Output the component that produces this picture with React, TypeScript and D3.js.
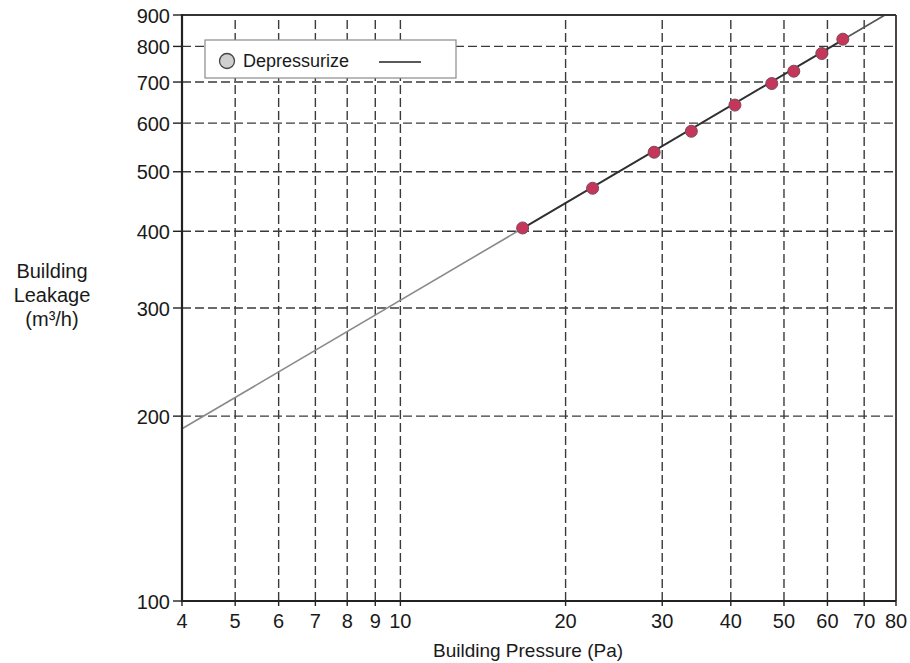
import React from 'react';
import * as d3 from 'd3';

// measured building pressure (Pa) and leakage (m³/h)
const pressures = [16.7, 22.4, 29.0, 33.9, 40.7, 47.5, 52.1, 58.6, 64.0];
const leakages = [405, 470, 538, 582, 642, 696, 729, 779, 822];

// power-law fit Q = C * P^n
const fitC = 92.0;
const fitN = 0.526;

const xTicks = [4, 5, 6, 7, 8, 9, 10, 20, 30, 40, 50, 60, 70, 80];
const yTicks = [100, 200, 300, 400, 500, 600, 700, 800, 900];

const W = 910;
const H = 663;
const margin = { top: 15, right: 14, bottom: 62, left: 182 };
const FONT = 'Liberation Sans, Arial, sans-serif';

export default function App() {
  const x = d3.scaleLog().domain([4, 80]).range([margin.left, W - margin.right]);
  const y = d3.scaleLog().domain([100, 900]).range([H - margin.bottom, margin.top]);
  const [x0, x1] = x.range();
  const [y0, y1] = y.range();

  const fit = (p: number) => fitC * Math.pow(p, fitN);
  const pEnd = Math.min(80, Math.pow(900 / fitC, 1 / fitN));
  const pFirst = pressures[0];
  const pLast = pressures[pressures.length - 1];

  const line = d3.line<number>().x(p => x(p)).y(p => y(fit(p)));

  return (
    <svg width={W} height={H} style={{ position: 'absolute', left: 0, top: 0, background: '#fff' }} fontFamily={FONT}>
      {/* grid */}
      <g stroke="#3a3a3a" strokeWidth={1.4} strokeDasharray="9,4">
        {xTicks.slice(1, -1).map(t => (
          <line key={'gx' + t} x1={x(t)} x2={x(t)} y1={y0} y2={y1} />
        ))}
        {yTicks.slice(1, -1).map(t => (
          <line key={'gy' + t} x1={x0} x2={x1} y1={y(t)} y2={y(t)} />
        ))}
      </g>

      {/* fitted line */}
      <path d={line([4, pFirst]) || ''} fill="none" stroke="#8a8a8a" strokeWidth={1.6} />
      <path d={line([pFirst, pLast]) || ''} fill="none" stroke="#2f2f2f" strokeWidth={2} />
      <path d={line([pLast, pEnd]) || ''} fill="none" stroke="#555" strokeWidth={1.6} />

      {/* points */}
      {pressures.map((p, i) => (
        <circle key={i} cx={x(p)} cy={y(leakages[i])} r={6} fill="#c4375a" stroke="#7a4a5a" strokeWidth={1} />
      ))}

      {/* frame */}
      <line x1={x0} x2={x1} y1={y1} y2={y1} stroke="#333" strokeWidth={1.8} />
      <line x1={x1} x2={x1} y1={y1} y2={y0} stroke="#333" strokeWidth={1.8} />
      <line x1={x0} x2={x0} y1={y1 - 1} y2={y0 + 1} stroke="#222" strokeWidth={2.2} />
      <line x1={x0 - 1} x2={x1} y1={y0} y2={y0} stroke="#222" strokeWidth={2.2} />

      {/* y ticks */}
      {yTicks.map(t => (
        <g key={'yt' + t}>
          <line x1={x0 - 9} x2={x0} y1={y(t)} y2={y(t)} stroke="#222" strokeWidth={1.4} />
          <text x={x0 - 12} y={y(t)} dy="0.38em" textAnchor="end" fontSize={20} fill="#1a1a1a">{t}</text>
        </g>
      ))}

      {/* x ticks */}
      {xTicks.map(t => (
        <g key={'xt' + t}>
          <line x1={x(t)} x2={x(t)} y1={y0} y2={y0 + 5} stroke="#222" strokeWidth={1.4} />
          <text x={x(t)} y={y0 + 27} textAnchor="middle" fontSize={20} fill="#1a1a1a">{t}</text>
        </g>
      ))}

      {/* axis titles */}
      <text x={528} y={657} textAnchor="middle" fontSize={19} fill="#1a1a1a">Building Pressure (Pa)</text>
      <text x={52} y={278} textAnchor="middle" fontSize={20} fill="#1a1a1a">
        <tspan x={52} dy={0}>Building</tspan>
        <tspan x={52} dy={24}>Leakage</tspan>
        <tspan x={52} dy={24}>(m³/h)</tspan>
      </text>

      {/* legend */}
      <g>
        <rect x={205} y={40} width={251} height={38} fill="#fff" stroke="#8a8a8a" strokeWidth={1.2} />
        <circle cx={227} cy={61} r={7.5} fill="#cfcfcf" stroke="#444" strokeWidth={1.3} />
        <text x={243} y={61} dy="0.36em" fontSize={18} fill="#1a1a1a">Depressurize</text>
        <line x1={379} x2={421} y1={62} y2={62} stroke="#222" strokeWidth={1.5} />
      </g>
    </svg>
  );
}
